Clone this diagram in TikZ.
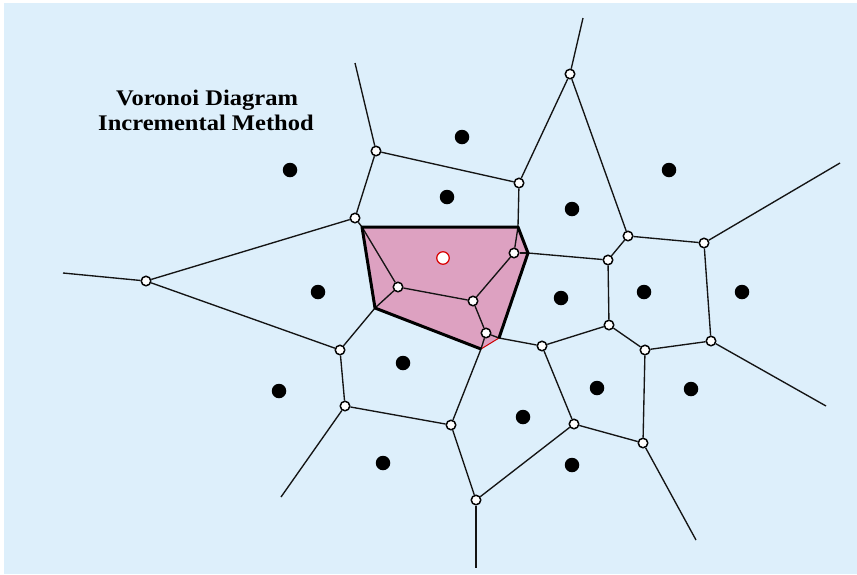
\documentclass[tikz,border=0pt]{standalone}
\usepackage{fontspec}
\newfontfamily\titlefont[FakeStretch=1.1]{Liberation Serif}
\begin{document}
\begin{tikzpicture}[x=1pt,y=-1pt,
  vtx/.style={circle,draw=black,fill=white,line width=1pt,minimum size=10pt,inner sep=0pt},
  site/.style={circle,fill=black,minimum size=14.5pt,inner sep=0pt},
  newsite/.style={circle,draw=red!85!black,fill=white,line width=1.2pt,minimum size=12.5pt,inner sep=0pt},
  edge/.style={line width=1.35pt,black!92},
  cellrim/.style={line width=3pt,black,line join=round},
  heading/.style={font=\titlefont\bfseries\fontsize{22.3}{26}\selectfont,anchor=base,inner sep=0pt}]
\definecolor{paper}{RGB}{221,239,251}
\definecolor{cellpink}{RGB}{221,161,193}

\useasboundingbox (0,0) rectangle (857,574);
\fill[white] (0,0) rectangle (857,574);
\fill[paper] (4,3) rectangle (857,574);

% corners of the newly inserted cell
\coordinate (p1) at (362,227);
\coordinate (p2) at (518,227);
\coordinate (p3) at (528,253);
\coordinate (p4) at (499,338);
\coordinate (p5) at (481,349);
\coordinate (p6) at (375,308);

% free ends of unbounded edges
\coordinate (rT) at (583,18);
\coordinate (rA) at (355,63);
\coordinate (rL) at (63,273);
\coordinate (rE) at (281,497);
\coordinate (rG) at (476,568);
\coordinate (rN) at (696,540);
\coordinate (rK) at (826,406);
\coordinate (rP) at (840,163);

% new cell
\fill[cellpink, draw=red!80!black, line width=1pt] (p1) -- (p2) -- (p3) -- (p4) -- (p5) -- (p6) -- cycle;

% Voronoi vertices
\node[vtx] (vT) at (570,74) {};
\node[vtx] (vA) at (376,151) {};
\node[vtx] (vB) at (519,183) {};
\node[vtx] (vC) at (355,218) {};
\node[vtx] (vL) at (146,281) {};
\node[vtx] (vD) at (340,350) {};
\node[vtx] (vE) at (345,406) {};
\node[vtx] (vF) at (451,425) {};
\node[vtx] (vG) at (476,500) {};
\node[vtx] (vH) at (542,346) {};
\node[vtx] (vI) at (609,325) {};
\node[vtx] (vJ) at (645,350) {};
\node[vtx] (vK) at (711,341) {};
\node[vtx] (vM) at (574,424) {};
\node[vtx] (vN) at (643,443) {};
\node[vtx] (vO) at (628,236) {};
\node[vtx] (vP) at (704,243) {};
\node[vtx] (vQ) at (608,260) {};
% old vertices inside the new cell
\node[vtx] (q1) at (398,287) {};
\node[vtx] (q2) at (473,301) {};
\node[vtx] (q3) at (514,253) {};
\node[vtx] (q4) at (486,333) {};

% Voronoi edges
\draw[edge] (vT) -- (rT);
\draw[edge] (vA) -- (rA);
\draw[edge] (vA) -- (vB);
\draw[edge] (vA) -- (vC);
\draw[edge] (vB) -- (vT);
\draw[edge] (vT) -- (vO);
\draw[edge] (vB) -- (p2);
\draw[edge] (vC) -- (vL);
\draw[edge] (vC) -- (p1);
\draw[edge] (vL) -- (rL);
\draw[edge] (vL) -- (vD);
\draw[edge] (p6) -- (vD);
\draw[edge] (vD) -- (vE);
\draw[edge] (vE) -- (rE);
\draw[edge] (vE) -- (vF);
\draw[edge] (vF) -- (vG);
\draw[edge] (vG) -- (rG);
\draw[edge] (vG) -- (vM);
\draw[edge] (vM) -- (vH);
\draw[edge] (vM) -- (vN);
\draw[edge] (vN) -- (vJ);
\draw[edge] (vN) -- (rN);
\draw[edge] (vJ) -- (vI);
\draw[edge] (vJ) -- (vK);
\draw[edge] (vK) -- (rK);
\draw[edge] (vK) -- (vP);
\draw[edge] (vP) -- (rP);
\draw[edge] (vP) -- (vO);
\draw[edge] (vO) -- (vQ);
\draw[edge] (vQ) -- (vI);
\draw[edge] (vI) -- (vH);
\draw[edge] (vH) -- (p4);
\draw[edge] (vQ) -- (p3);
\draw[edge] (p5) -- (vF);
% edges swallowed by the new cell
\draw[edge] (p1) -- (q1);
\draw[edge] (p6) -- (q1);
\draw[edge] (q1) -- (q2);
\draw[edge] (q2) -- (q3);
\draw[edge] (q3) -- (p2);
\draw[edge] (q3) -- (p3);
\draw[edge] (q2) -- (q4);
\draw[edge] (q4) -- (p4);
\draw[edge] (q4) -- (p5);

% rim of the new cell
\draw[cellrim] (p4) -- (p3) -- (p2) -- (p1) -- (p6) -- (p5);

% vertex rings drawn above the rim
\foreach \v in {vT,vA,vB,vC,vL,vD,vE,vF,vG,vH,vI,vJ,vK,vM,vN,vO,vP,vQ,q1,q2,q3,q4}
  \draw[black,fill=white,line width=1pt] (\v) circle (4.5pt);

% sites
\node[site] (s1) at (290,170) {};
\node[site] (s2) at (462,137) {};
\node[site] (s3) at (447,197) {};
\node[site] (s4) at (572,209) {};
\node[site] (s5) at (669,170) {};
\node[site] (s6) at (318,292) {};
\node[site] (s7) at (561,298) {};
\node[site] (s8) at (644,292) {};
\node[site] (s9) at (742,292) {};
\node[site] (s10) at (403,363) {};
\node[site] (s11) at (279,391) {};
\node[site] (s12) at (597,388) {};
\node[site] (s13) at (691,389) {};
\node[site] (s14) at (523,417) {};
\node[site] (s15) at (383,463) {};
\node[site] (s16) at (572,465) {};
\node[newsite] (s0) at (443,258) {};

% heading
\node[heading] (t1) at (207,105) {Voronoi Diagram};
\node[heading] (t2) at (206,130) {Incremental Method};
\end{tikzpicture}
\end{document}
